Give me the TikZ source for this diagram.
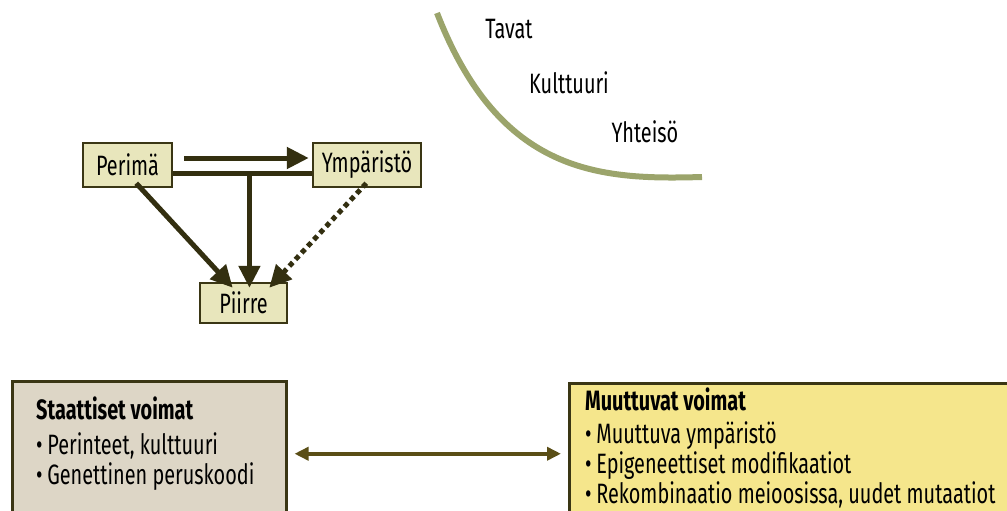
\documentclass[tikz,border=0pt]{standalone}
\usepackage{fontspec}
\setmainfont{Fira Sans}[FakeStretch=0.71]
\usetikzlibrary{arrows.meta,positioning}

\definecolor{boxline}{HTML}{3A3614}
\definecolor{boxfill}{HTML}{E8E6BC}
\definecolor{arrowdark}{HTML}{332F10}
\definecolor{arcgreen}{HTML}{9BA46B}
\definecolor{staticfill}{HTML}{DDD6C6}
\definecolor{changefill}{HTML}{F5E68C}
\definecolor{linkbrown}{HTML}{5A4E16}

\tikzset{
  factor/.style={draw=boxline,fill=boxfill,line width=2.5pt,inner xsep=5pt,
    minimum height=44pt,font=\fontsize{28}{30}\selectfont},
  effect/.style={arrowdark,line width=5pt,-{Triangle[length=22pt,width=21pt]}},
  forcebox/.style={draw=boxline,line width=2.5pt,anchor=north west},
  forcetext/.style={anchor=north west,align=left,inner sep=0pt,
    font=\fontsize{28}{30}\selectfont},
  sphere/.style={font=\fontsize{28}{30}\selectfont}
}

\begin{document}
\begin{tikzpicture}[x=1pt,y=-1pt]
        \useasboundingbox (0,0) rectangle (1007,511);

        % ulkoiset tekijat
        \draw[arcgreen,line width=6pt] (437,13) .. controls (500,175) and (600,180) .. (702,177);
        \node[sphere] (tavat) at (509,29) {Tavat};
        \node[sphere] (kulttuuri) at (569,83) {Kulttuuri};
        \node[sphere] (yhteiso) at (645,132) {Yhteisö};

        % perima, ymparisto ja piirre
        \node[factor,minimum width=89pt] (perima) at (127.5,165) {Perimä};
        \node[factor,minimum width=108pt] (ymparisto) at (367,165) {Ympäristö};
        \node[factor,minimum width=87pt,minimum height=40pt] (piirre) at (243.5,303) {Piirre};

        \draw[effect] ([xshift=11pt,yshift=7pt]perima.east) -- ([xshift=-3pt,yshift=7pt]ymparisto.west);
        \draw[arrowdark,line width=5pt] ([yshift=-8pt]perima.east) -- coordinate[pos=0.55] (yhdessa) ([yshift=-8pt]ymparisto.west);
        \draw[effect] (yhdessa) -- ([yshift=-6pt]yhdessa |- piirre.north);
        \draw[effect] ([xshift=-37pt,yshift=5pt]perima.south east) -- ([xshift=34pt,yshift=-6pt]piirre.north west);
        \draw[effect,dash pattern=on 5pt off 4pt] ([xshift=-56pt,yshift=5pt]ymparisto.south east) -- ([xshift=-19pt,yshift=-6pt]piirre.north east);

        % voimat
        \node[forcebox,fill=staticfill,minimum width=274pt,minimum height=145pt] (staattiset) at (11,380) {};
        \node[forcebox,fill=changefill,minimum width=460pt,minimum height=141pt] (muuttuvat) at (568,382) {};
        \node[forcetext] (staattisetteksti) at (36,397) {\textbf{Staattiset voimat}\\[5pt]
          •\,Perinteet, kulttuuri\\
          •\,Genettinen peruskoodi};
        \node[forcetext] (muuttuvatteksti) at (585,388) {\textbf{Muuttuvat voimat}\\[3pt]
          •\,Muuttuva ympäristö\\
          •\,Epigeneettiset modifikaatiot\\
          •\,Rekombinaatio meioosissa, uudet mutaatiot};

        \draw[linkbrown,line width=4pt,{Triangle[length=14pt,width=13pt]}-{Triangle[length=14pt,width=13pt]}]
          ([xshift=7pt]staattiset.east) -- ([xshift=-7pt]muuttuvat.west);
    \end{tikzpicture}
\end{document}
